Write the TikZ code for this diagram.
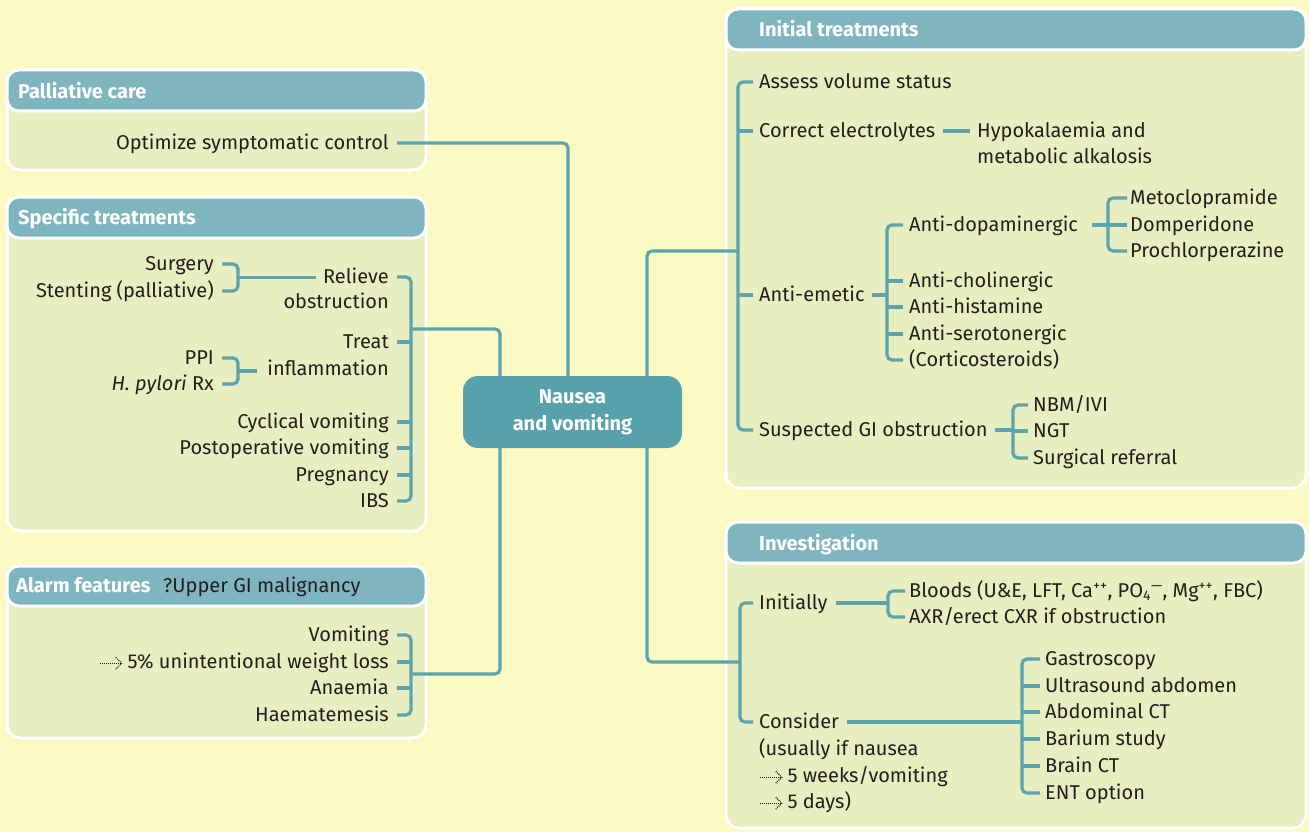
\documentclass[tikz,border=0pt]{standalone}
\usepackage{fontspec}
\setmainfont{Fira Sans}
\usetikzlibrary{calc}
\definecolor{bg}{HTML}{FCF9C3}
\definecolor{panel}{HTML}{E8EEBF}
\definecolor{head}{HTML}{7FB5BF}
\definecolor{link}{HTML}{5BA4B0}
\definecolor{core}{HTML}{59A2AC}
\definecolor{ink}{HTML}{231F20}
\newcommand{\darrow}{\tikz[baseline=0pt,x=1pt,y=1pt]{%
  \draw[draw=ink,line width=1.1pt,dash pattern=on 1pt off 1pt] (0,5.5)--(21,5.5);
  \draw[draw=ink,line width=1.1pt,dash pattern=on 1pt off 1pt] (16,11.5)--(22,5.5)--(16,-0.5);}}
\begin{document}
\begin{tikzpicture}[x=1pt,y=-1pt,
  font=\fontsize{20}{24}\selectfont,
  panelbox/.style={fill=panel,draw=white,line width=3pt,rounded corners=13pt},
  headbox/.style={fill=head,draw=white,line width=3pt,rounded corners=12pt},
  lt/.style={anchor=west,inner sep=0pt,text height=13.5pt,text depth=0pt,text=ink},
  rt/.style={anchor=east,inner sep=0pt,text height=13.5pt,text depth=0pt,text=ink},
  ht/.style={anchor=west,inner sep=0pt,text height=13.5pt,text depth=0pt,text=white,font=\fontsize{20}{24}\selectfont\bfseries},
  wire/.style={draw=link,line width=3.2pt,rounded corners=5pt},
]
\useasboundingbox (0,0) rectangle (1309,832);
\fill[bg] (0,0) rectangle (1309,832);

% panels
\path[panelbox] (7,70) rectangle (426,170);
\path[headbox] (7,70) rectangle (426,111);
\path[panelbox] (7,197) rectangle (426,531);
\path[headbox] (7,197) rectangle (426,238);
\path[panelbox] (7,566) rectangle (426,738);
\path[headbox] (7,566) rectangle (426,606);
\path[panelbox] (726,9) rectangle (1306,488);
\path[headbox] (726,9) rectangle (1306,50);
\path[panelbox] (726,522) rectangle (1306,828);
\path[headbox] (726,522) rectangle (1306,563);

% headers
\node[ht] (hpal) at (18,92) {Palliative care};
\node[ht] (hspec) at (18,218) {Specific treatments};
\node[ht] (halarm) at (16,586) {Alarm features};
\node[lt] (hupper) at (163,586) {?Upper GI malignancy};
\node[ht] (hinit) at (759,30) {Initial treatments};
\node[ht] (hinv) at (759,544) {Investigation};

% central node
\node[fill=core,rounded corners=15pt,minimum width=219pt,minimum height=72pt,
      text=white,align=center,inner sep=0pt,font=\fontsize{20}{27}\selectfont\bfseries]
      (core) at (572.5,412) {Nausea\\and vomiting};

\coordinate (xL) at (500,0);
\coordinate (xM) at (568,0);
\coordinate (xR) at (647,0);

% palliative
\node[rt] (opt) at (389,143) {Optimize symptomatic control};
\draw[wire] ([xshift=8pt]opt.east) -| (core.north -| xM);

% specific treatments
\node[rt] (surg) at (214,264) {Surgery};
\node[rt] (stent) at (214,291) {Stenting (palliative)};
\node[rt] (relieve) at (389,277) {Relieve};
\node[rt] (obstr) at (389,302) {obstruction};
\node[rt] (ppi) at (214,358) {PPI};
\node[rt] (hpyl) at (214,384) {\textit{H. pylori} Rx};
\node[rt] (treat) at (389,342) {Treat};
\node[rt] (inflam) at (389,369) {inflammation};
\node[rt] (cyc) at (389,422) {Cyclical vomiting};
\node[rt] (postop) at (389,448) {Postoperative vomiting};
\node[rt] (preg) at (389,475) {Pregnancy};
\node[rt] (ibs) at (389,501) {IBS};
\coordinate (spec) at (411,329);
\coordinate (b1) at (238,277.5);
\coordinate (b2) at (238,371);
\draw[wire] ([xshift=8pt]relieve.east) -| (spec) |- ([xshift=8pt]ibs.east);
\foreach \n in {treat,cyc,postop,preg} \draw[wire] ([xshift=8pt]\n.east) -- (\n.east -| spec);
\draw[wire] (spec) -| (core.north -| xL);
\draw[wire] ([xshift=8pt]surg.east) -| (b1) |- ([xshift=8pt]stent.east);
\draw[wire] (b1) -- ([xshift=-7pt]relieve.west |- b1);
\draw[wire] ([xshift=8pt]ppi.east) -| (b2) |- ([xshift=8pt]hpyl.east);
\draw[wire] (b2) -- ++(19,0);

% alarm features
\node[rt] (vom) at (389,635) {Vomiting};
\node[rt] (wl) at (389,662) {\darrow\ 5\% unintentional weight loss};
\node[rt] (anae) at (389,688) {Anaemia};
\node[rt] (haem) at (389,715) {Haematemesis};
\coordinate (al) at (411,674);
\draw[wire] ([xshift=8pt]vom.east) -| (al) |- ([xshift=8pt]haem.east);
\foreach \n in {wl,anae} \draw[wire] ([xshift=8pt]\n.east) -- (\n.east -| al);
\draw[wire] (core.south -| xL) |- (al);

% initial treatments
\node[lt] (assess) at (759,82) {Assess volume status};
\node[lt] (correct) at (759,131) {Correct electrolytes};
\node[lt] (hypo) at (977,131) {Hypokalaemia and};
\node[lt] (metab) at (977,157) {metabolic alkalosis};
\node[lt] (antiem) at (759,295) {Anti-emetic};
\node[lt] (susp) at (759,430) {Suspected GI obstruction};
\coordinate (it) at (738,251);
\draw[wire] ([xshift=-6pt]assess.west) -| (it) |- ([xshift=-6pt]susp.west);
\foreach \n in {correct,antiem} \draw[wire] ([xshift=-6pt]\n.west) -- (\n.west -| it);
\draw[wire] (core.north -| xR) |- (it);
\draw[wire] ([xshift=7pt]correct.east) -- ([xshift=-7pt]hypo.west);

\node[lt] (adop) at (909,225) {Anti-dopaminergic};
\node[lt] (achol) at (909,281) {Anti-cholinergic};
\node[lt] (ahist) at (909,307) {Anti-histamine};
\node[lt] (asero) at (909,334) {Anti-serotonergic};
\node[lt] (cort) at (909,360) {(Corticosteroids)};
\coordinate (ae) at (887,295);
\draw[wire] ([xshift=7pt]antiem.east) -- (ae);
\draw[wire] ([xshift=-6pt]adop.west) -| (ae) |- ([xshift=-6pt]cort.west);
\foreach \n in {achol,ahist,asero} \draw[wire] ([xshift=-6pt]\n.west) -- (\n.west -| ae);

\node[lt] (meto) at (1130,198) {Metoclopramide};
\node[lt] (domp) at (1130,225) {Domperidone};
\node[lt] (proc) at (1130,251) {Prochlorperazine};
\coordinate (ad) at (1108,225);
\draw[wire] ([xshift=14pt]adop.east) -- (ad);
\draw[wire] ([xshift=-3pt]meto.west) -| (ad) |- ([xshift=-3pt]proc.west);
\draw[wire] ([xshift=-3pt]domp.west) -- (ad);

\node[lt] (nbm) at (1033,405) {NBM/IVI};
\node[lt] (ngt) at (1033,431) {NGT};
\node[lt] (sref) at (1033,458) {Surgical referral};
\coordinate (sg) at (1013,431);
\draw[wire] ([xshift=7pt]susp.east) -- (susp.east -| sg);
\draw[wire] ([xshift=-5pt]nbm.west) -| (sg) |- ([xshift=-5pt]sref.west);
\draw[wire] ([xshift=-5pt]ngt.west) -- (sg);

% investigation
\node[lt] (initially) at (759,603) {Initially};
\node[lt] (consider) at (759,722) {Consider};
\node[lt] (usually) at (759,749) {(usually if nausea};
\node[lt] (weeks) at (759,776) {\darrow\ 5 weeks/vomiting};
\node[lt] (days) at (759,802) {\darrow\ 5 days)};
\coordinate (inv) at (740,662);
\draw[wire] ([xshift=-6pt]initially.west) -| (inv) |- ([xshift=-6pt]consider.west);
\draw[wire] (core.south -| xR) |- (inv);

\node[lt] (bloods) at (909,591) {Bloods (U\&E, LFT, Ca\textsuperscript{++}, PO\textsubscript{4}\textsuperscript{—}, Mg\textsuperscript{++}, FBC)};
\node[lt] (axr) at (909,617) {AXR/erect CXR if obstruction};
\coordinate (bl) at (888,603);
\draw[wire] ([xshift=8pt]initially.east) -- (bl);
\draw[wire] ([xshift=-4pt]bloods.west) -| (bl) |- ([xshift=-4pt]axr.west);

\node[lt] (gastro) at (1045,659) {Gastroscopy};
\node[lt] (us) at (1045,686) {Ultrasound abdomen};
\node[lt] (act) at (1045,712) {Abdominal CT};
\node[lt] (bar) at (1045,739) {Barium study};
\node[lt] (bct) at (1045,766) {Brain CT};
\node[lt] (ent) at (1045,793) {ENT option};
\coordinate (cs) at (1022,722);
\draw[wire] ([xshift=8pt]consider.east) -- (cs);
\draw[wire] ([xshift=-5pt]gastro.west) -| (cs) |- ([xshift=-5pt]ent.west);
\foreach \n in {us,act,bar,bct} \draw[wire] ([xshift=-5pt]\n.west) -- (\n.west -| cs);
\end{tikzpicture}
\end{document}
